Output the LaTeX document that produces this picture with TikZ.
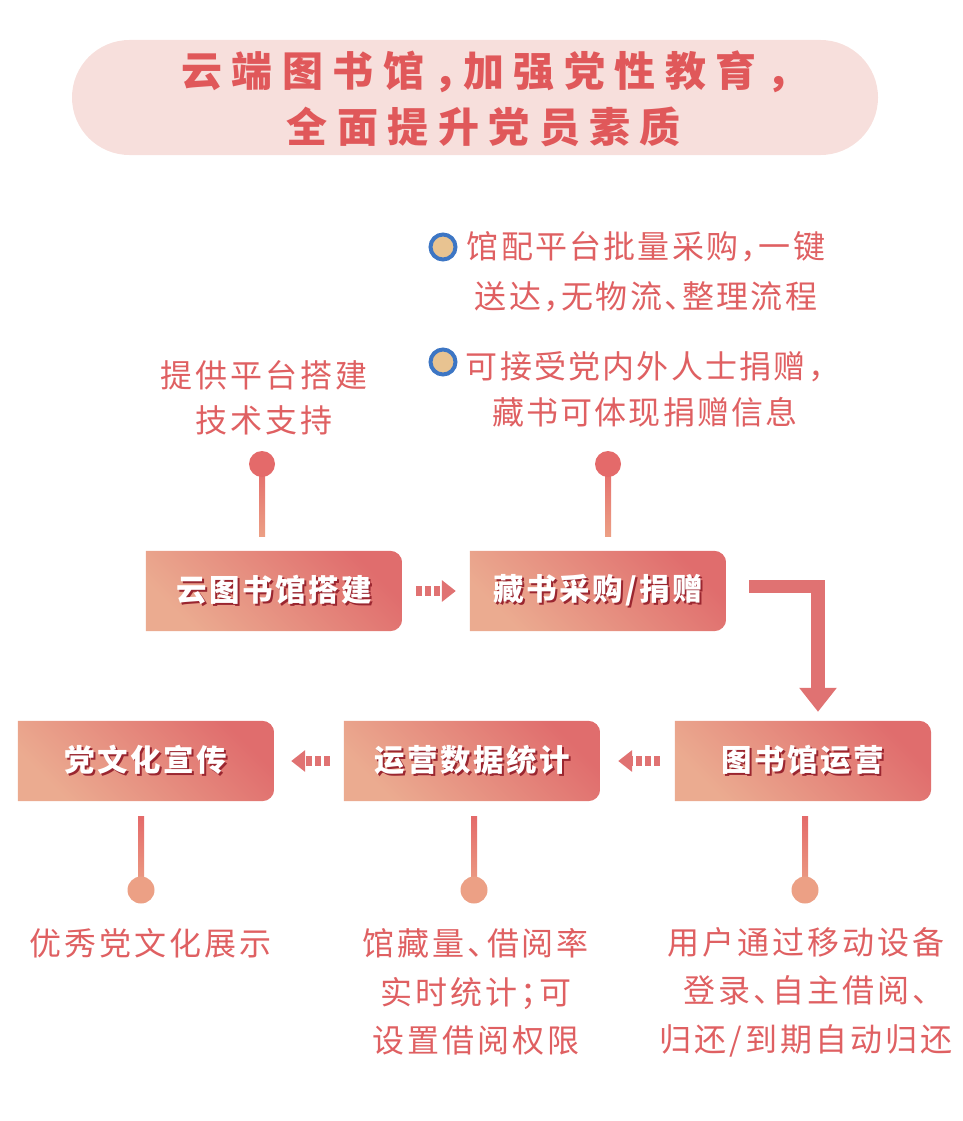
\documentclass[tikz,border=0pt]{standalone}
\usepackage{fontspec}
\setmainfont{Noto Sans CJK SC}
\newfontfamily\titlefont{Noto Sans CJK SC}[LetterSpace=23,RawFeature=+halt]
\newfontfamily\bodyfont{Noto Sans CJK SC}[LetterSpace=9.4,RawFeature=+halt]
\newfontfamily\bulletfont{Noto Sans CJK SC}[LetterSpace=7,RawFeature=+halt]
\newfontfamily\boxfont{Noto Sans CJK SC}[LetterSpace=8]
\usetikzlibrary{arrows.meta,calc,backgrounds}
\definecolor{pillpink}{HTML}{F7DFDC}
\definecolor{titlered}{HTML}{E0585A}
\definecolor{textred}{HTML}{DF6062}
\definecolor{boxlight}{HTML}{EBAB90}
\definecolor{boxdark}{HTML}{E06D6D}
\definecolor{arrowred}{HTML}{E07272}
\definecolor{shadowred}{HTML}{9A2630}
\definecolor{dotred}{HTML}{E46A6A}
\definecolor{dotsalmon}{HTML}{ECA085}
\definecolor{bulletblue}{HTML}{3D76C4}
\definecolor{bullettan}{HTML}{E8C391}
\newcommand{\shadowed}[1]{\makebox[0pt][l]{\hspace{2pt}\raisebox{-2pt}{\color{shadowred}#1}}{\color{white}#1}}
\tikzset{
  pill/.style={fill=pillpink, rounded corners=57.5, minimum width=806, minimum height=115, inner sep=0pt},
  titletext/.style={titlered, align=center, font=\titlefont\bfseries\fontsize{41}{56}\selectfont},
  stagebox/.style={minimum width=256, minimum height=80, inner sep=0pt, font=\boxfont\bfseries\fontsize{30.5}{30.5}\selectfont},
  stageshade/.style={left color=boxlight, right color=boxdark, shading angle=135},
  note/.style={textred, align=center, inner sep=0pt, font=\bodyfont\fontsize{32}{#1}\selectfont},
  note/.default=48.5,
  bulletnote/.style={textred, align=center, inner sep=0pt, font=\bulletfont\fontsize{32}{#1}\selectfont},
  topdot/.style={circle, fill=dotred, minimum size=26, inner sep=0pt},
  bottomdot/.style={circle, fill=dotsalmon, minimum size=27, inner sep=0pt},
  stemshade/.style={top color=dotred, bottom color=dotsalmon},
  bullet/.style={circle, draw=bulletblue, line width=4, fill=bullettan, minimum size=25, inner sep=0pt},
  dotarrow/.style={arrowred, line width=10, dash pattern=on 6pt off 3pt, -{Triangle[width=21pt,length=14pt]}},
  bentarrow/.style={arrowred, line width=13.5, -{Triangle[width=36pt,length=24pt]}}
}
\begin{document}
\begin{tikzpicture}[x=1pt,y=-1pt]
  \useasboundingbox (0,0) rectangle (962,1121);
  \node[pill] (pill) at (475,97.5) {};
  \node[titletext] (title) at (484,99) {云端图书馆，加强党性教育，\\全面提升党员素质};

  \node[stagebox] (build) at (274,591) {\shadowed{云图书馆搭建}};
  \node[stagebox] (collect) at (598,591) {\shadowed{藏书采购/捐赠}};
  \node[stagebox] (operate) at (803,761) {\shadowed{图书馆运营}};
  \node[stagebox] (stats) at (472,761) {\shadowed{运营数据统计}};
  \node[stagebox] (promote) at (146,761) {\shadowed{党文化宣传}};

  \node[topdot] (pin1) at (262,464) {};
  \node[topdot] (pin2) at (608,464) {};
  \node[bottomdot] (pin3) at (141,890) {};
  \node[bottomdot] (pin4) at (474,890) {};
  \node[bottomdot] (pin5) at (805,890) {};

  \begin{pgfonlayer}{background}
    \foreach \b in {build,collect,operate,stats,promote}{
      \begin{scope}
        \clip (\b.south west) rectangle (\b.north east);
        \clip[rounded corners=12] ($(\b.south west)+(-20,0)$) rectangle (\b.north east);
        \shade[stageshade] (\b.south west) rectangle (\b.north east);
      \end{scope}
    }
    \shade[stemshade] ($(pin1)+(-3,0)$) rectangle ($(pin1 |- build.north)+(3,-14)$);
    \shade[stemshade] ($(pin2)+(-3,0)$) rectangle ($(pin2 |- collect.north)+(3,-14)$);
    \shade[stemshade] ($(pin3 |- promote.south)+(-3,15)$) rectangle ($(pin3)+(3,0)$);
    \shade[stemshade] ($(pin4 |- stats.south)+(-3,15)$) rectangle ($(pin4)+(3,0)$);
    \shade[stemshade] ($(pin5 |- operate.south)+(-3,15)$) rectangle ($(pin5)+(3,0)$);
  \end{pgfonlayer}

  \draw[dotarrow, shorten <=14, shorten >=14] (build) -- (collect);
  \draw[dotarrow, shorten <=15, shorten >=18] (operate) -- (stats);
  \draw[dotarrow, shorten <=14, shorten >=17] (stats) -- (promote);
  \draw[bentarrow] ($(collect.east)+(23,-4.5)$) -| ($(operate.north)+(15,-9)$);

  \node[note=45] (support) at (264,398) {提供平台搭建\\技术支持};
  \node[bullet] (bullet1) at (443,247) {};
  \node[bullet] (bullet2) at (443,362) {};
  \node[bulletnote=50] (buy) at (646,272) {馆配平台批量采购，一键\\送达，无物流、整理流程};
  \node[bulletnote=46] (donate) at (645,389) {可接受党内外人士捐赠，\\藏书可体现捐赠信息};
  \node[note] (show) at (151,943) {优秀党文化展示};
  \node[note] (count) at (476,992) {馆藏量、借阅率\\实时统计；可\\设置借阅权限};
  \node[note] (use) at (806,992) {用户通过移动设备\\登录、自主借阅、\\归还/到期自动归还};
\end{tikzpicture}
\end{document}
